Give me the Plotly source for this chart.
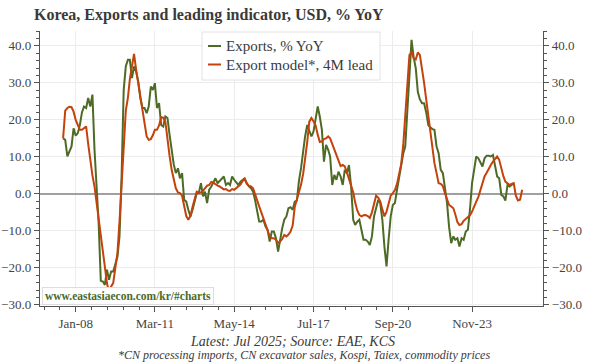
import pandas as pd
import plotly.graph_objects as go

# ---------------- data ----------------
exports_start = "2007-07-01"
exports = [
    # 2007 Jul-Dec
    15.0, 14.6, 10.1, 11.5, 12.8, 17.7,
    # 2008
    15.7, 16.4, 18.5, 22.0, 23.6, 23.2, 25.9, 23.6, 26.8, 12.0, 2.0, -8.0,
    # 2009
    -23.5, -23.7, -24.6, -20.5, -23.2, -21.0, -21.0, -18.7, -17.0, -11.5, 5.0, 28.0,
    # 2010
    34.5, 36.2, 36.2, 31.3, 34.4, 33.0, 30.4, 25.9, 23.2, 23.2, 21.8, 23.6,
    # 2011
    29.0, 28.1, 29.9, 23.2, 24.5, 18.6, 18.2, 20.9, 20.5, 16.0, 11.5, 8.0,
    # 2012
    5.6, 6.9, 4.2, 5.6, -1.6, -2.1, -4.3, -6.1, -4.3, -2.0, 0.2, 0.2,
    # 2013
    2.9, -0.7, 0.6, -2.5, 1.1, 2.0, 2.9, 4.2, 2.9, 3.5, 4.2, 4.7,
    # 2014
    2.4, 2.9, 2.4, 4.7, 3.8, 2.9, 2.4, 3.3, 3.8, 4.2, 2.9, 2.0,
    # 2015
    1.5, 0.6, -1.6, -4.3, -7.5, -7.5, -7.0, -8.8, -9.7, -12.9, -10.2, -10.2,
    # 2016
    -12.0, -15.6, -12.0, -9.3, -7.0, -6.1, -3.9, -3.6, -4.3, -2.1, -1.8, 3.5,
    # 2017
    7.0, 12.0, 15.5, 18.6, 17.3, 15.5, 16.8, 20.0, 23.6, 20.9, 17.3, 8.7,
    # 2018
    13.2, 11.9, 10.1, 2.4, 5.1, 3.8, 6.0, 4.7, 2.4, 6.5, 5.6, 7.8,
    # 2019
    2.0, -7.0, -8.4, -7.5, -7.0, -9.7, -12.4, -12.4, -12.9, -13.8, -11.5, -6.1,
    # 2020
    -3.5, -1.6, -2.5, -7.0, -14.2, -19.6, -12.4, -6.1, -3.0, -2.5, 1.1, 4.7,
    # 2021
    8.3, 11.0, 12.8, 22.3, 34.0, 41.6, 37.0, 34.0, 27.5, 25.5, 24.5, 24.5,
    # 2022
    22.0, 18.5, 18.0, 17.5, 17.3, 12.8, 11.0, 6.5, 5.6, 1.1, -2.5, -9.0,
    # 2023
    -13.3, -11.5, -12.4, -12.0, -14.2, -12.0, -12.4, -10.2, -9.7, -4.3, 2.9, 6.5,
    # 2024
    10.1, 9.6, 8.7, 7.4, 9.6, 10.3, 10.3, 10.1, 10.5, 7.4, 4.7, 4.2,
    # 2025 Jan-Jul
    -0.3, -0.7, -1.8, 2.4, 2.0, 2.4, 2.9,
]

model_start = "2007-07-01"
model = [
    # 2007 Jul-Dec
    15.0, 22.5, 23.2, 23.5, 23.4, 22.2,
    # 2008
    20.0, 18.5, 17.3, 17.3, 17.8, 18.2, 13.5, 8.5, 5.0, 2.0, -2.5, -7.5,
    # 2009
    -11.5, -15.1, -20.5, -24.1, -26.8, -25.0, -24.1, -20.5, -16.0, -7.5, 2.5, 13.5,
    # 2010
    22.5, 26.0, 31.0, 34.5, 37.8, 33.5, 29.9, 27.0, 22.5, 19.1, 15.5, 14.6,
    # 2011
    14.8, 15.9, 17.3, 17.3, 18.5, 20.7, 20.6, 19.5, 14.5, 10.3, 6.5, 3.8,
    # 2012
    1.5, 0.4, 0.2, -0.5, -3.5, -6.0, -7.0, -6.0, -3.5, -1.5, 0.6, 0.3,
    # 2013
    0.4, 0.8, 1.5, 2.2, 2.4, 3.2, 3.0, 2.5, 2.2, 2.0, 1.5, 1.2,
    # 2014
    1.3, 0.9, 0.8, 1.3, 1.1, 1.5, 2.0, 2.5, 3.5, 4.0, 2.7, 2.2,
    # 2015
    2.0, 1.5, 0.0, -2.0, -3.4, -5.0, -6.5, -8.0, -9.8, -11.5, -12.0, -12.0,
    # 2016
    -12.4, -13.3, -12.9, -12.2, -11.1, -11.5, -11.0, -10.2, -8.5, -3.5, -1.5, 0.5,
    # 2017
    2.5, 5.5, 9.0, 14.0, 19.5, 20.5, 19.6, 18.5, 16.0, 14.0, 14.2, 14.8,
    # 2018
    15.0, 15.5, 15.0, 13.5, 12.5, 10.5, 9.3, 7.5, 7.8, 7.4, 5.8, 4.0,
    # 2019
    1.8, 0.4, -2.3, -4.5, -5.7, -6.1, -5.8, -5.7, -6.0, -6.5, -5.0, -3.0,
    # 2020
    -0.5, -1.0, -2.0, -4.2, -6.1, -4.8, -2.5, -0.5, 0.2, 1.0, 2.7, 5.3,
    # 2021
    8.0, 13.5, 22.0, 31.5, 37.5, 38.3, 36.7, 36.3, 38.2, 37.5, 34.0, 30.0,
    # 2022
    25.5, 21.0, 16.5, 12.3, 8.3, 5.6, 2.9, 2.7, 2.1, 0.2, -1.6, -3.0,
    # 2023
    -3.4, -3.9, -5.5, -7.6, -8.4, -8.2, -7.3, -6.7, -6.2, -5.8, -4.8, -3.3,
    # 2024
    -2.1, -0.8, 0.9, 2.8, 4.7, 5.7, 6.9, 7.8, 8.7, 9.4, 10.1, 9.2,
    # 2025 Jan-Nov
    6.5, 4.7, 3.3, 2.9, 2.4, 2.7, 2.9, -0.5, -1.8, -1.6, 1.1,
]

x_tick_labels = ["Jan-08", "Mar-11", "May-14", "Jul-17", "Sep-20", "Nov-23"]
y_tick_values = [-30, -20, -10, 0, 10, 20, 30, 40]

series_names = ["Exports, % YoY", "Export model*, 4M lead"]
title_text = "Korea, Exports and leading indicator, USD, % YoY"
footer_1 = "Latest: Jul 2025; Source: EAE, KCS"
footer_2 = "*CN processing imports, CN excavator sales, Kospi, Taiex, commodity prices"
watermark = "www.eastasiaecon.com/kr/#charts"

# ---------------- build ----------------
GREEN = "#4d6b25"
ORANGE = "#c4420c"
FONT = "Liberation Serif"
AX = "#555555"

d_exp = pd.date_range(exports_start, periods=len(exports), freq="MS")
d_mod = pd.date_range(model_start, periods=len(model), freq="MS")

major = pd.to_datetime(x_tick_labels, format="%b-%y")
base = major[0]
minor = [base + pd.Timedelta(days=k * 38 / 5 * 30.4375) for k in range(-2, 22)]

fig = go.Figure()
fig.add_trace(go.Scatter(x=d_exp, y=exports, mode="lines", name=series_names[0],
                         line=dict(color=GREEN, width=2), showlegend=False))
fig.add_trace(go.Scatter(x=d_mod, y=model, mode="lines", name=series_names[1],
                         line=dict(color=ORANGE, width=2), showlegend=False))
# invisible trace for the right-hand axis
fig.add_trace(go.Scatter(x=d_mod, y=model, mode="lines", yaxis="y2",
                         line=dict(color="rgba(0,0,0,0)", width=0),
                         hoverinfo="skip", showlegend=False))

yr = [-30.3, 44.0]
common_y = dict(
    range=yr, tickvals=y_tick_values, tickformat=".1f",
    ticks="outside", ticklen=5, tickcolor=AX, tickwidth=1,
    showline=True, linecolor=AX, linewidth=1.2,
    tickfont=dict(family=FONT, size=13, color="#444444"),
    minor=dict(dtick=2, ticks="outside", ticklen=3, tickcolor=AX, showgrid=False),
    fixedrange=True, automargin=False,
)

fig.update_layout(
    width=600, height=364,
    margin=dict(l=40, r=57, t=31, b=58, autoexpand=False),
    paper_bgcolor="white", plot_bgcolor="white",
    showlegend=False,
    title=dict(text="<b>" + title_text + "</b>", x=34 / 600, xanchor="left",
               xref="container", y=1 - 14 / 364, yanchor="middle", yref="container",
               font=dict(family=FONT, size=16, color="#3a3a3a")),
    xaxis=dict(
        type="date", range=["2006-07-29", "2026-09-01"],
        tickvals=major, ticktext=x_tick_labels,
        ticks="outside", ticklen=5, tickcolor=AX,
        showline=True, linecolor=AX, linewidth=1.2,
        showgrid=True, gridcolor="#ececec", gridwidth=1,
        tickfont=dict(family=FONT, size=13, color="#444444"),
        minor=dict(tickvals=minor, ticks="outside", ticklen=3, tickcolor=AX, showgrid=False),
        zeroline=False, automargin=False, fixedrange=True,
    ),
    yaxis=dict(**common_y, side="left", showgrid=True, gridcolor="#ececec",
               zeroline=True, zerolinecolor="#a0a0a0", zerolinewidth=1.3),
    yaxis2=dict(**common_y, side="right", overlaying="y", showgrid=False, zeroline=False),
)

# plot-area pixel helpers (for annotation placement)
PX0, PX1, PY0, PY1 = 40, 543, 31, 306
def px(x):
    return (x - PX0) / (PX1 - PX0)
def py(y):
    return (PY1 - y) / (PY1 - PY0)

# legend box
fig.add_shape(type="rect", xref="paper", yref="paper",
              x0=px(202), x1=px(380), y0=py(80), y1=py(32),
              fillcolor="white", line=dict(color="#e2e2e2", width=1), layer="above")
for i, (name, col) in enumerate(zip(series_names, [GREEN, ORANGE])):
    yy = 46 + i * 18.5
    fig.add_shape(type="line", xref="paper", yref="paper",
                  x0=px(208), x1=px(221), y0=py(yy), y1=py(yy),
                  line=dict(color=col, width=2), layer="above")
    fig.add_annotation(text=name, xref="paper", yref="paper", x=px(224), y=py(yy),
                       xanchor="left", yanchor="middle", showarrow=False,
                       font=dict(family=FONT, size=15, color="#3a3a3a"))

# watermark
fig.add_annotation(text="<b>" + watermark + "</b>", xref="paper", yref="paper",
                   x=px(42), y=py(296), xanchor="left", yanchor="middle", showarrow=False,
                   bgcolor="white", bordercolor="#dddddd", borderwidth=1, borderpad=2,
                   font=dict(family=FONT, size=11.5, color="#4a6a2a"))

# footers
fig.add_annotation(text="<i>" + footer_1 + "</i>", xref="paper", yref="paper",
                   x=px(292), y=py(341), xanchor="center", yanchor="middle",
                   showarrow=False, font=dict(family=FONT, size=14, color="#3a3a3a"))
fig.add_annotation(text="<i>" + footer_2 + "</i>", xref="paper", yref="paper",
                   x=px(304), y=py(355), xanchor="center", yanchor="middle",
                   showarrow=False, font=dict(family=FONT, size=12, color="#3a3a3a"))

fig.write_html(
    "out.html",
    config={"displayModeBar": False, "staticPlot": True},
    post_script="document.body.style.margin='0';document.body.style.padding='0';"
                "document.body.style.overflow='hidden';",
)
